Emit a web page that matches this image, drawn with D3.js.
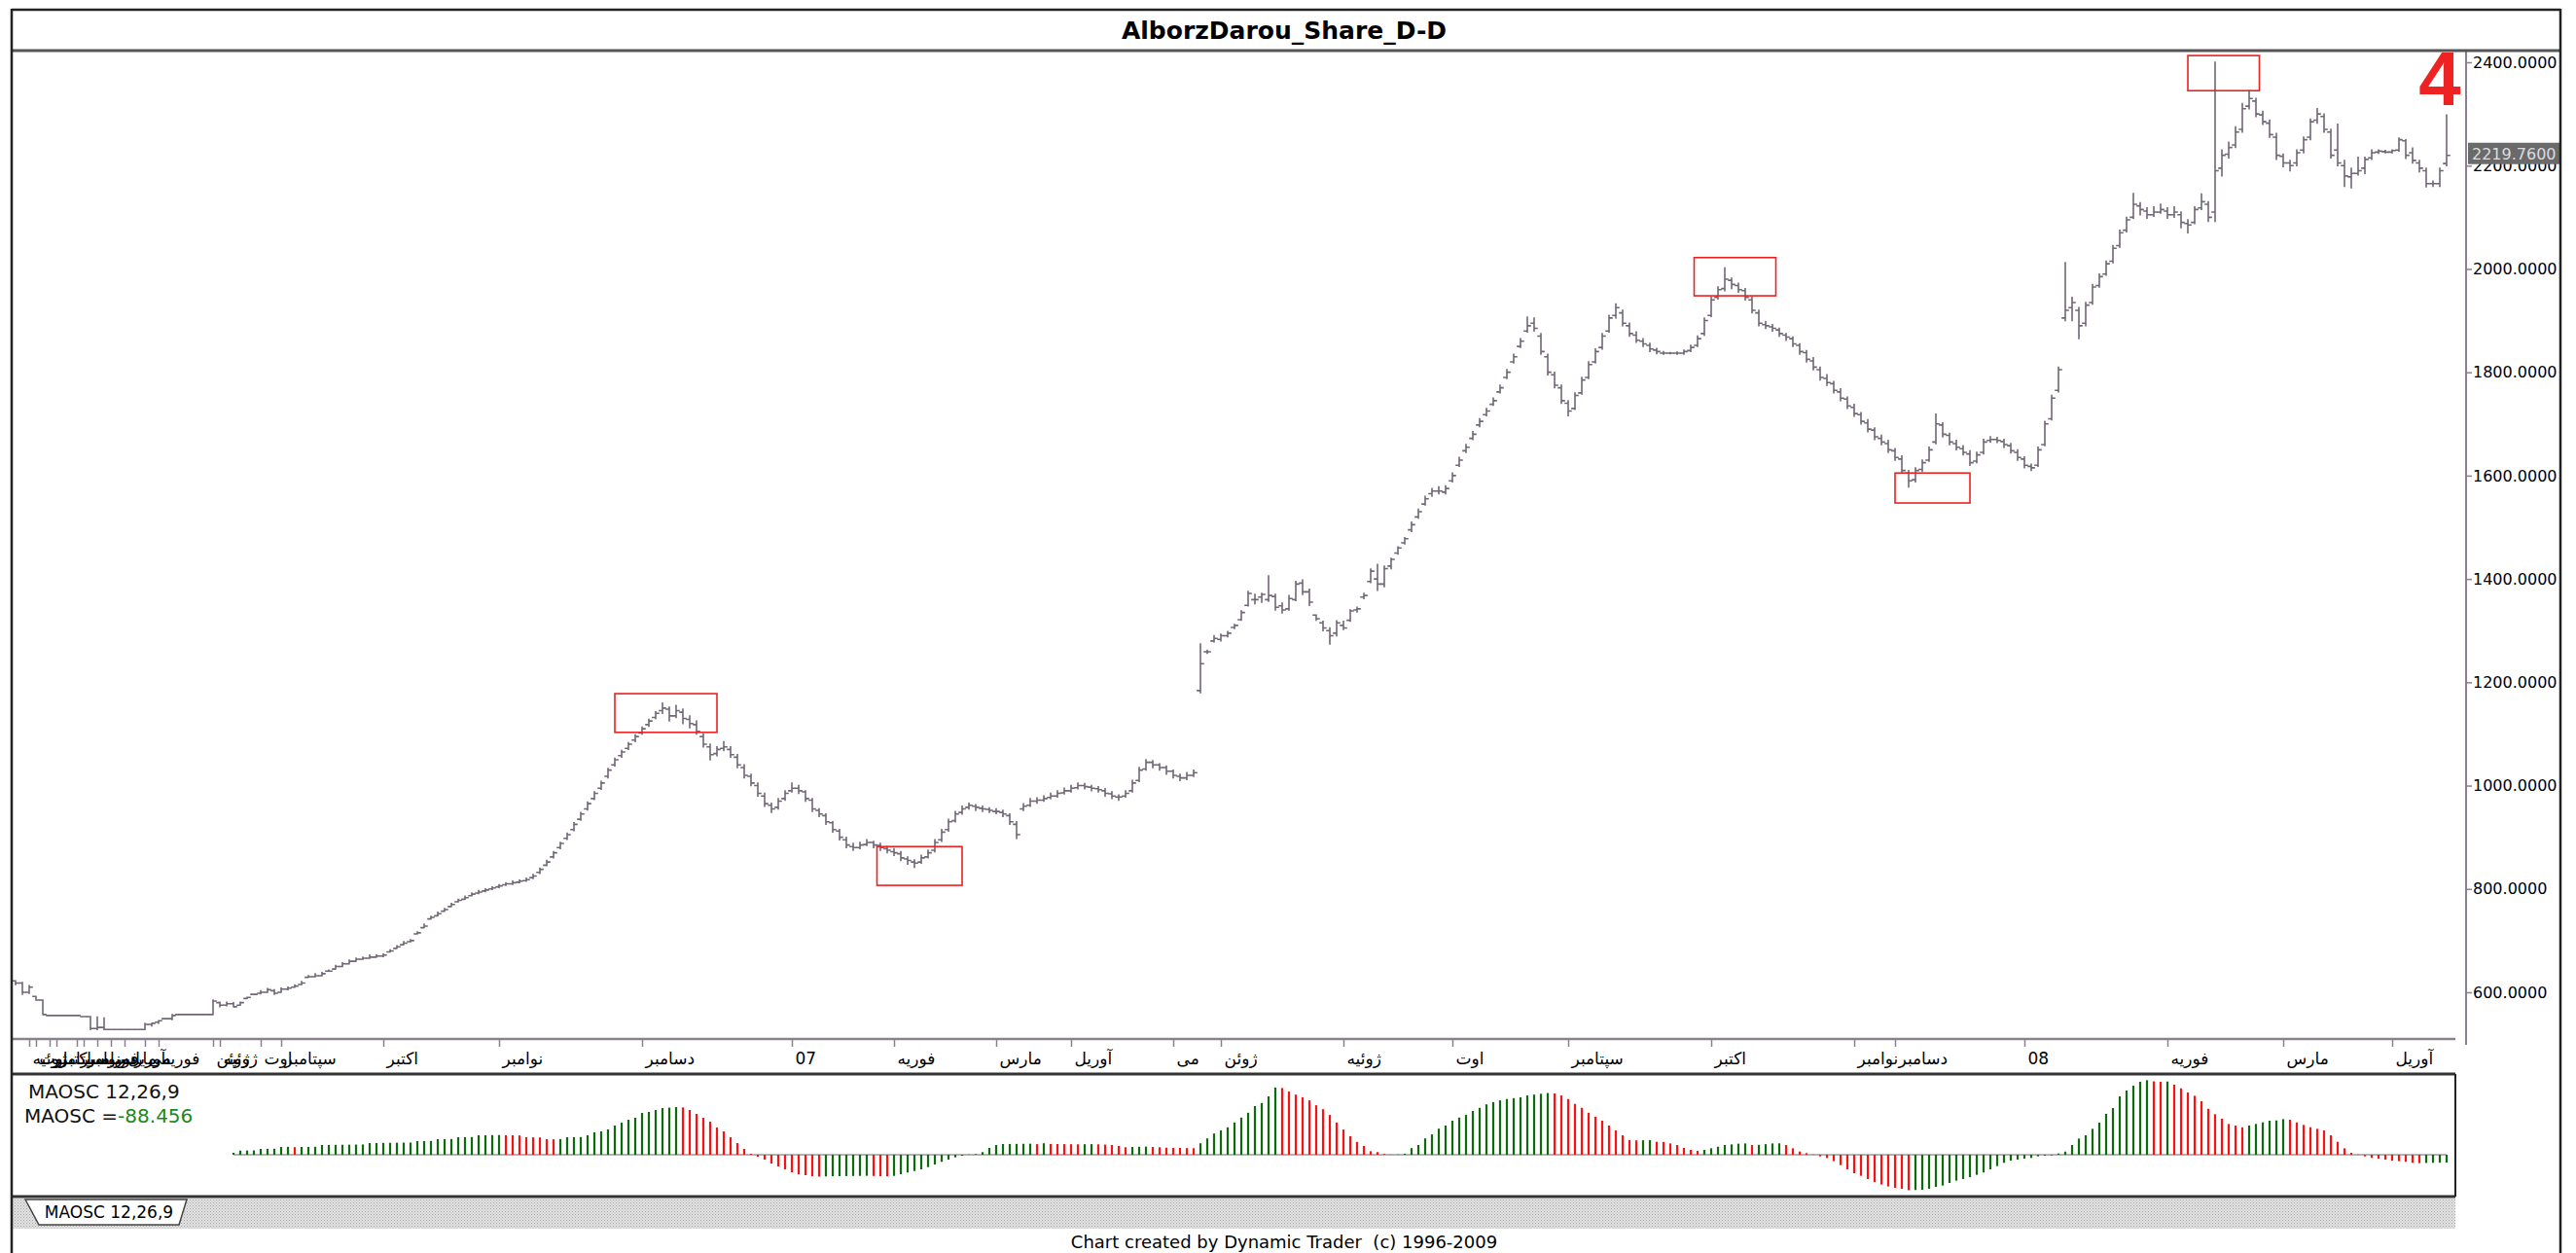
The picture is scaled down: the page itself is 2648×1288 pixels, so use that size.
<!DOCTYPE html>
<html><head><meta charset="utf-8">
<script src="https://cdn.jsdelivr.net/npm/d3@7"></script>
<style>body{margin:0;background:#fff;} svg{display:block;font-family:"DejaVu Sans",Tahoma,sans-serif;}</style>
</head><body><svg id="c" width="2648" height="1288"></svg>
<script>
const chartTitle = "AlborzDarou_Share_D-D";
const opens = [
622,618,600,592,585,555,555,555,555,555, 553,553,530,532,528,528,528,528,528,528,
538,542,549,549,557,557,557,557,557,557, 580,575,578,575,588,596,598,600,603,600,
606,610,615,629,630,632,641,645,650,655, 660,664,666,668,670,678,685,692,698,713,
725,742,748,757,766,775,780,787,792,796, 800,804,808,810,813,816,822,832,846,862,
880,898,915,935,955,975,995,1018,1040,1058, 1072,1088,1102,1118,1132,1145,1148,1135,1142,1128,
1118,1095,1075,1062,1072,1070,1055,1035,1018,1000, 980,962,958,975,990,995,988,972,952,942,
928,912,895,882,880,886,890,884,878,872, 868,858,852,852,862,875,895,915,932,948,
958,960,956,954,950,948,942,925,955,962, 970,972,977,980,986,990,996,1000,997,994,
990,984,978,980,990,1010,1032,1045,1040,1035, 1028,1018,1015,1020,1184,1259,1280,1283,1290,1306,
1321,1349,1360,1365,1360,1366,1348,1342,1360,1392, 1375,1330,1315,1300,1295,1310,1320,1340,1365,1395,
1400,1390,1425,1450,1470,1495,1520,1545,1565,1570, 1568,1590,1620,1648,1672,1698,1718,1738,1762,1790,
1820,1850,1880,1895,1870,1830,1795,1770,1740,1730, 1760,1790,1820,1848,1880,1910,1915,1890,1872,1860,
1852,1843,1837,1837,1837,1837,1842,1852,1875,1910, 1945,1962,1978,1968,1958,1940,1915,1892,1888,1882,
1872,1865,1852,1838,1822,1805,1788,1778,1762,1748, 1732,1718,1702,1688,1672,1662,1648,1632,1605,1592,
1612,1630,1665,1698,1678,1662,1652,1642,1628,1645, 1668,1670,1666,1658,1645,1632,1618,1620,1660,1710,
1765,1905,1925,1920,1895,1935,1968,1990,2015,2045, 2075,2100,2122,2112,2105,2110,2112,2105,2105,2088,
2090,2118,2125,2110,2195,2222,2240,2270,2315,2325, 2298,2282,2255,2218,2205,2205,2230,2255,2288,2295,
2265,2230,2200,2178,2185,2195,2215,2226,2227,2226, 2230,2248,2225,2205,2190,2165,2165,2204];
const highs = [
622,619,613,592,585,555,555,555,555,555, 553,553,552,550,528,528,528,528,528,540,
540,545,549,557,557,557,557,557,557,585, 581,581,580,581,590,596,603,607,605,608,
610,614,621,632,636,638,643,652,657,662, 666,668,672,672,674,682,690,698,702,717,
732,747,755,762,772,780,786,792,797,800, 804,808,812,815,817,821,828,840,855,872,
890,908,928,948,968,988,1008,1033,1053,1068, 1083,1098,1113,1128,1143,1160,1152,1155,1148,1135,
1125,1100,1080,1075,1085,1075,1060,1040,1022,1005, 985,966,975,990,1005,1000,990,975,955,945,
930,915,900,888,890,895,892,888,882,878, 872,862,856,865,875,895,915,935,950,960,
966,963,960,957,955,952,945,930,965,975, 976,980,985,990,995,1000,1005,1004,1000,998,
994,988,982,990,1010,1035,1050,1048,1042,1038, 1030,1022,1025,1030,1274,1262,1290,1293,1298,1312,
1338,1376,1370,1372,1406,1370,1353,1368,1395,1398, 1380,1330,1318,1305,1319,1318,1340,1345,1372,1419,
1428,1425,1440,1462,1480,1510,1535,1560,1575,1578, 1580,1605,1635,1660,1685,1710,1730,1750,1775,1805,
1835,1865,1907,1905,1875,1835,1800,1775,1745,1760, 1790,1820,1845,1875,1910,1932,1920,1895,1878,1865,
1856,1846,1840,1838,1839,1843,1852,1870,1905,1945, 1965,2002,1982,1972,1962,1945,1920,1898,1892,1885,
1875,1868,1855,1842,1828,1810,1795,1782,1768,1752, 1738,1722,1708,1692,1678,1668,1652,1638,1610,1615,
1630,1655,1719,1702,1682,1668,1658,1648,1645,1670, 1675,1674,1670,1662,1650,1636,1622,1655,1705,1755,
1810,2012,1945,1925,1935,1970,1990,2015,2045,2075, 2100,2146,2128,2118,2120,2125,2118,2120,2110,2095,
2120,2145,2130,2400,2230,2245,2275,2320,2345,2330, 2305,2288,2262,2222,2210,2230,2255,2290,2310,2300,
2270,2280,2210,2195,2216,2216,2230,2230,2229,2230, 2253,2250,2234,2210,2195,2170,2195,2298];
const lows = [
615,596,598,585,557,555,555,555,555,555, 553,528,528,528,528,528,528,528,528,528,
535,540,549,547,557,557,557,557,557,557, 572,574,572,575,588,596,597,600,596,600,
605,610,615,629,630,632,641,645,650,655, 660,664,666,668,669,678,685,692,698,713,
725,742,748,757,766,775,780,787,791,795, 799,803,807,809,812,815,820,830,845,860,
878,896,913,933,953,973,993,1015,1038,1055, 1070,1085,1100,1115,1130,1140,1125,1132,1120,1112,
1100,1075,1050,1058,1068,1055,1035,1015,1000,980, 960,948,955,972,988,985,970,950,940,925,
910,895,880,875,878,884,880,875,870,865, 855,848,842,850,860,872,892,912,930,945,
955,952,950,948,946,940,925,898,952,960, 966,970,975,978,984,988,994,994,990,988,
980,975,972,978,988,1008,1030,1035,1030,1022, 1015,1010,1012,1018,1180,1256,1278,1280,1288,1304,
1320,1348,1352,1355,1357,1340,1334,1340,1358,1370, 1349,1320,1300,1274,1290,1302,1318,1336,1362,1393,
1378,1385,1420,1448,1468,1492,1518,1543,1560,1565, 1565,1588,1618,1645,1670,1695,1716,1736,1760,1788,
1818,1848,1878,1880,1835,1795,1770,1740,1716,1728, 1758,1788,1818,1845,1878,1905,1890,1870,1858,1850,
1840,1836,1835,1836,1835,1835,1840,1850,1872,1908, 1942,1958,1962,1955,1940,1915,1890,1885,1880,1870,
1862,1850,1835,1820,1805,1785,1775,1760,1745,1730, 1715,1700,1685,1670,1660,1645,1630,1605,1578,1588,
1608,1628,1662,1675,1660,1650,1640,1620,1625,1642, 1665,1664,1655,1644,1630,1615,1610,1618,1658,1708,
1762,1900,1900,1865,1890,1932,1965,1988,2012,2042, 2072,2098,2105,2098,2102,2108,2098,2100,2080,2070,
2088,2115,2092,2092,2180,2215,2235,2265,2310,2295, 2280,2255,2212,2198,2190,2200,2225,2250,2282,2265,
2215,2200,2160,2157,2182,2185,2212,2224,2225,2225, 2228,2214,2205,2188,2159,2160,2160,2200];
const closes = [
618,600,610,585,557,555,555,555,555,555, 553,530,532,528,528,528,528,528,528,538,
540,545,549,555,557,557,557,557,557,583, 575,578,572,580,590,596,600,605,598,606,
608,612,618,630,632,636,641,650,655,660, 664,666,668,670,672,680,688,695,700,715,
728,745,752,760,770,778,783,790,794,798, 802,806,810,812,815,818,825,838,852,870,
888,905,925,945,965,985,1005,1030,1050,1065, 1080,1095,1110,1125,1140,1150,1135,1145,1130,1120,
1105,1080,1060,1070,1075,1060,1040,1020,1005,985, 965,955,970,985,995,990,975,955,945,930,
915,900,885,880,885,890,885,880,875,870, 860,855,850,860,870,890,910,930,945,955,
962,958,955,952,950,945,930,905,960,970, 972,975,980,985,990,995,1000,998,995,992,
985,980,978,985,1005,1030,1045,1040,1035,1028, 1020,1015,1020,1025,1236,1259,1285,1290,1295,1310,
1335,1372,1360,1370,1368,1345,1340,1362,1390,1375, 1355,1323,1305,1290,1315,1305,1338,1342,1368,1415,
1390,1420,1438,1460,1478,1505,1530,1555,1570,1570, 1575,1600,1630,1655,1680,1705,1725,1745,1770,1800,
1830,1860,1890,1885,1840,1800,1775,1745,1725,1755, 1785,1815,1840,1870,1905,1925,1895,1875,1862,1855,
1845,1840,1837,1837,1837,1840,1848,1865,1900,1940, 1960,1980,1970,1960,1945,1920,1895,1890,1885,1875,
1868,1855,1840,1825,1810,1790,1780,1765,1750,1735, 1720,1705,1690,1675,1665,1650,1635,1610,1590,1610,
1625,1650,1700,1680,1665,1655,1645,1625,1640,1665, 1670,1668,1660,1648,1635,1620,1615,1650,1700,1750,
1805,1920,1935,1890,1930,1965,1985,2010,2040,2070, 2095,2125,2115,2105,2110,2115,2105,2110,2090,2085,
2115,2130,2100,2190,2220,2235,2265,2310,2330,2300, 2285,2260,2220,2205,2200,2225,2250,2285,2300,2270,
2220,2205,2180,2185,2190,2212,2225,2228,2226,2229, 2250,2220,2210,2195,2165,2165,2190,2219.76];

// MAOSC 12,26,9 histogram, first value at bar index oscStart
const oscStart = 32;
const maosc = [
22,47,48,49,66,67,68,88,89,86, 88,89,90,110,111,112,113,114,115,116,
132,133,134,135,136,137,138,154,155,156, 176,177,178,198,199,200,220,221,222,223,
221,220,219,198,197,196,176,175,177,198, 199,200,220,253,264,286,330,363,396,418,
473,484,506,528,533,539,535,506,462,418, 374,308,264,198,132,66,11,-22,-55,-99,
-132,-165,-198,-220,-231,-242,-247,-245,-243,-242, -241,-240,-239,-238,-240,-242,-244,-239,-220,-201,
-184,-165,-140,-110,-80,-55,-30,-11,3,8, 30,77,110,121,122,123,124,125,120,130,
122,121,120,119,118,119,120,118,115,110, 100,85,88,90,92,88,85,80,78,77,
75,74,130,185,240,275,310,365,420,475, 550,585,660,760,755,715,680,650,615,560,
515,450,365,285,210,145,100,40,30,8, 2,3,12,75,110,185,230,295,330,385,
420,450,495,530,570,595,615,630,640,650, 670,680,690,698,693,670,630,575,530,475,
430,385,330,275,220,165,163,164,166,147, 145,128,110,77,55,44,55,73,90,110,
117,125,128,110,112,120,128,129,110,73, 37,18,3,-18,-37,-73,-117,-165,-209,-238,
-275,-308,-337,-359,-374,-385,-401,-399,-396,-385, -363,-348,-319,-293,-275,-253,-227,-201,-165,-128,
-91,-66,-55,-44,-36,-18,-11,-7,14,36, 110,183,220,293,363,462,528,660,726,781,
825,843,830,825,828,792,751,704,667,605, 520,458,407,348,330,311,330,348,366,385,
388,403,396,366,337,311,293,275,220,146, 73,22,3,-18,-36,-44,-55,-66,-73,-80,
-91,-95,-93,-91,-90,-88.456];
const oscLabel = "MAOSC 12,26,9";
const oscValueText = "-88.456";

const priceTicks = [600,800,1000,1200,1400,1600,1800,2000,2200,2400];
const lastPrice = 2219.76;

// first bar of each month (bar index) and its label
const monthIdx = [2,3,5,6,9,10,12,14,16,19,21,29,30,36,39,54,71,92,114,129,144,155,170,177,195,211,228,249,270,276,295,316,333,349];
const monthLabels = ["ژوئیه","اوت","سپتامبر","اکتبر","نوامبر","دسامبر","فوریه","مارس","آوریل","می","فوریه","ژوئن","ژوئیه","اوت","سپتامبر","اکتبر","نوامبر","دسامبر","07","فوریه","مارس","آوریل","می","ژوئن","ژوئیه","اوت","سپتامبر","اکتبر","نوامبر","دسامبر","08","فوریه","مارس","آوریل"];

// red annotation boxes: bar index span and price span
const boxStart = [88,126.5,246.5,276,319];
const boxEnd   = [103,139,258.5,287,329.5];
const boxLow   = [1103,807,1948,1547,2345];
const boxHigh  = [1178,882,2022,1605,2413];
const waveLabel = "4";

const svg = d3.select("#c");
const N = closes.length;
const x = d3.scaleLinear().domain([0, N-1]).range([16, 2515]);
const y = d3.scaleLinear().domain([600, 2400]).range([1020, 64]);
const yo = d3.scaleLinear().domain([0, 770]).range([1187, 1117]);

const frameL = 12, frameR = 2632, axisX = 2535, xAxisY = 1068;
const oscTop = 1104, oscBot = 1230, oscR = 2524;

svg.append("rect").attr("width",2648).attr("height",1288).attr("fill","#fff");

// pattern for tab strip
const defs = svg.append("defs");
const pat = defs.append("pattern").attr("id","hatch").attr("width",3).attr("height",3).attr("patternUnits","userSpaceOnUse");
pat.append("rect").attr("width",3).attr("height",3).attr("fill","#e2e2e2");
pat.append("rect").attr("width",1).attr("height",1).attr("fill","#a8a8a8");
pat.append("rect").attr("x",1.5).attr("y",1.5).attr("width",1).attr("height",1).attr("fill","#b4b4b4");

// title
svg.append("text").attr("x",1320).attr("y",40).attr("text-anchor","middle")
  .attr("font-size",25).attr("font-weight","bold").attr("fill","#000").text(chartTitle);

// price bars
svg.append("g").selectAll("path").data(d3.range(N)).join("path")
  .attr("d", i => `M${x(i)},${y(highs[i])-0.7}V${y(lows[i])+0.7}M${x(i)-3.8},${y(opens[i])}H${x(i)}M${x(i)},${y(closes[i])}H${x(i)+3.8}`)
  .attr("fill","none").attr("stroke","#706676").attr("stroke-width",1.6);

// annotation boxes
svg.append("g").selectAll("rect").data(d3.range(boxStart.length)).join("rect")
  .attr("x", k => x(boxStart[k])).attr("y", k => y(boxHigh[k]))
  .attr("width", k => x(boxEnd[k]) - x(boxStart[k])).attr("height", k => y(boxLow[k]) - y(boxHigh[k]))
  .attr("fill","none").attr("stroke","#ee2020").attr("stroke-width",1.6);

svg.append("text").attr("x",2508).attr("y",108).attr("text-anchor","middle")
  .attr("font-family","Liberation Sans, Arial, sans-serif").attr("font-weight","bold")
  .attr("font-size",78).attr("fill","#ee2222").text(waveLabel);

// price axis
const gy = svg.append("g").attr("transform",`translate(${axisX},0)`)
  .call(d3.axisRight(y).tickValues(priceTicks).tickFormat(d3.format(".4f")).tickSize(6).tickPadding(1));
gy.select(".domain").remove();
gy.selectAll(".tick line").attr("stroke","#8a8090").attr("stroke-width",1.5);
gy.selectAll(".tick text").attr("font-size",16).attr("fill","#000").attr("font-family","DejaVu Sans, sans-serif");
svg.append("line").attr("x1",axisX).attr("x2",axisX).attr("y1",53).attr("y2",1074).attr("stroke","#8a8090").attr("stroke-width",2);

// last price marker
const lp = svg.append("g").attr("transform",`translate(${axisX+2},${y(lastPrice)-2})`);
lp.append("rect").attr("x",0).attr("y",-11).attr("width",95).attr("height",22).attr("fill","#6a6a6a");
lp.append("text").attr("x",4).attr("y",6).attr("font-size",16).attr("fill","#dcdcdc").text(d3.format(".4f")(lastPrice));

// x axis
const gx = svg.append("g").attr("transform",`translate(0,${xAxisY})`)
  .call(d3.axisBottom(x).tickValues(monthIdx).tickFormat((d,k) => monthLabels[k]).tickSize(8).tickPadding(6));
gx.select(".domain").remove();
gx.selectAll(".tick line").attr("stroke","#8a8090").attr("stroke-width",1.5);
gx.selectAll(".tick text").attr("font-size",17).attr("fill","#000").attr("text-anchor","start").attr("dx",3)
  .attr("font-family","DejaVu Sans, sans-serif");
svg.append("line").attr("x1",frameL).attr("x2",oscR).attr("y1",xAxisY).attr("y2",xAxisY).attr("stroke","#8a8090").attr("stroke-width",2.5);

// oscillator panel
svg.append("line").attr("x1",x(oscStart)).attr("x2",x(N-1)).attr("y1",yo(0)).attr("y2",yo(0)).attr("stroke","#9a9a9a").attr("stroke-width",1.5);
svg.append("g").selectAll("line").data(maosc).join("line")
  .attr("x1",(d,k)=>x(oscStart+k)).attr("x2",(d,k)=>x(oscStart+k))
  .attr("y1",yo(0)).attr("y2",d=>yo(d))
  .attr("stroke",(d,k)=> (k===0 || d >= maosc[k-1]) ? "#0d6b0d" : "#ff1010")
  .attr("stroke-width",2.2);
svg.append("text").attr("x",29).attr("y",1129).attr("font-size",20).attr("fill","#111").text(oscLabel);
const t2 = svg.append("text").attr("x",25).attr("y",1154).attr("font-size",20).attr("fill","#111");
t2.append("tspan").text("MAOSC =");
t2.append("tspan").attr("fill","#1a8a1a").text(oscValueText);

svg.append("line").attr("x1",frameL).attr("x2",oscR).attr("y1",oscTop).attr("y2",oscTop).attr("stroke","#333").attr("stroke-width",3);
svg.append("line").attr("x1",frameL).attr("x2",oscR).attr("y1",oscBot).attr("y2",oscBot).attr("stroke","#333").attr("stroke-width",3);
svg.append("line").attr("x1",oscR).attr("x2",oscR).attr("y1",oscTop).attr("y2",oscBot).attr("stroke","#222").attr("stroke-width",2);

// tab strip
svg.append("rect").attr("x",frameL).attr("y",oscBot+2).attr("width",oscR-frameL).attr("height",31).attr("fill","url(#hatch)");
svg.append("path").attr("d","M26,1233L40,1259L184,1259L192,1233Z").attr("fill","#fff").attr("stroke","#444").attr("stroke-width",1.5);
svg.append("text").attr("x",112).attr("y",1252).attr("text-anchor","middle").attr("font-size",17).attr("fill","#000").text(oscLabel);

// footer
svg.append("text").attr("x",1320).attr("y",1283).attr("text-anchor","middle").attr("font-size",18).attr("fill","#000")
  .style("white-space","pre").text("Chart created by Dynamic Trader  (c) 1996-2009");

// frame
svg.append("line").attr("x1",frameL).attr("x2",frameR).attr("y1",10).attr("y2",10).attr("stroke","#222").attr("stroke-width",2.5);
svg.append("line").attr("x1",frameL).attr("x2",frameR).attr("y1",52).attr("y2",52).attr("stroke","#555").attr("stroke-width",3);
svg.append("line").attr("x1",frameL).attr("x2",frameL).attr("y1",9).attr("y2",1288).attr("stroke","#222").attr("stroke-width",2.5);
svg.append("line").attr("x1",frameR).attr("x2",frameR).attr("y1",9).attr("y2",1288).attr("stroke","#222").attr("stroke-width",2.5);
</script></body></html>
